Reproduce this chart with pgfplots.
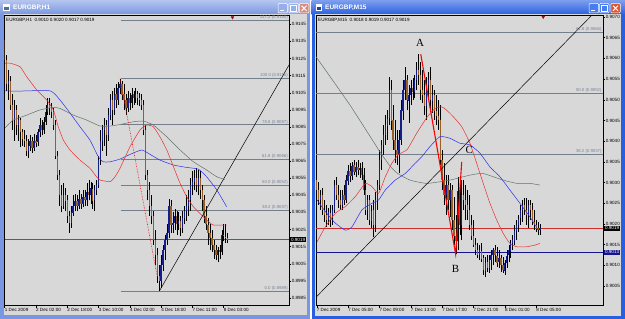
\documentclass[border=0pt]{standalone}
\usepackage{fontspec}
\setmainfont{Liberation Sans}
\newfontfamily\abcfont{Liberation Serif}
\usepackage{pgfplots}
\usepackage{pgfplotstable}
\pgfplotsset{compat=1.18}

\definecolor{chartbg}{RGB}{216,216,216}
\definecolor{bull}{RGB}{20,30,140}
\definecolor{bear}{RGB}{150,95,40}
\definecolor{maR}{RGB}{235,45,45}
\definecolor{maB}{RGB}{45,45,235}
\definecolor{maG}{RGB}{95,115,105}
\definecolor{fib}{RGB}{115,128,140}
\definecolor{fibtxt}{RGB}{120,130,150}
\definecolor{curline}{RGB}{205,45,45}
\definecolor{navyline}{RGB}{20,20,140}
\definecolor{titleL}{RGB}{120,150,225}
\definecolor{titleR}{RGB}{40,95,225}
\definecolor{btnL}{RGB}{150,175,235}
\definecolor{closeL}{RGB}{215,140,130}
\definecolor{btnR}{RGB}{70,125,240}
\definecolor{closeR}{RGB}{225,85,50}
\definecolor{markred}{RGB}{140,20,20}

% EURGBP H1: bar index, open, high, low, close
\pgfplotstableread{
i o h l c
0 0.9136 0.9138 0.9123 0.9124
1 0.9124 0.9127 0.9106 0.9110
2 0.9110 0.9118 0.9101 0.9112
3 0.9112 0.9115 0.9095 0.9098
4 0.9098 0.9104 0.9083 0.9089
5 0.9089 0.9101 0.9077 0.9095
6 0.9095 0.9098 0.9080 0.9086
7 0.9086 0.9092 0.9077 0.9089
8 0.9089 0.9090 0.9073 0.9082
9 0.9082 0.9084 0.9074 0.9078
10 0.9078 0.9083 0.9073 0.9077
11 0.9077 0.9080 0.9068 0.9071
12 0.9071 0.9078 0.9067 0.9074
13 0.9074 0.9080 0.9071 0.9077
14 0.9077 0.9079 0.9070 0.9073
15 0.9073 0.9081 0.9071 0.9077
16 0.9077 0.9080 0.9073 0.9076
17 0.9076 0.9084 0.9074 0.9082
18 0.9082 0.9090 0.9079 0.9086
19 0.9086 0.9089 0.9080 0.9083
20 0.9083 0.9091 0.9081 0.9088
21 0.9088 0.9098 0.9086 0.9094
22 0.9094 0.9102 0.9092 0.9098
23 0.9098 0.9102 0.9092 0.9096
24 0.9096 0.9099 0.9090 0.9094
25 0.9094 0.9096 0.9083 0.9086
26 0.9086 0.9089 0.9066 0.9068
27 0.9068 0.9071 0.9054 0.9057
28 0.9057 0.9060 0.9039 0.9045
29 0.9045 0.9051 0.9035 0.9039
30 0.9039 0.9052 0.9037 0.9045
31 0.9045 0.9049 0.9036 0.9042
32 0.9042 0.9045 0.9029 0.9033
33 0.9033 0.9036 0.9023 0.9029
34 0.9029 0.9039 0.9026 0.9035
35 0.9035 0.9045 0.9033 0.9039
36 0.9039 0.9046 0.9036 0.9042
37 0.9042 0.9045 0.9036 0.9039
38 0.9039 0.9048 0.9037 0.9043
39 0.9043 0.9046 0.9037 0.9040
40 0.9040 0.9048 0.9038 0.9044
41 0.9044 0.9048 0.9039 0.9042
42 0.9042 0.9052 0.9039 0.9047
43 0.9047 0.9054 0.9042 0.9045
44 0.9045 0.9053 0.9040 0.9049
45 0.9049 0.9052 0.9037 0.9042
46 0.9042 0.9051 0.9036 0.9048
47 0.9048 0.9054 0.9045 0.9051
48 0.9051 0.9068 0.9049 0.9066
49 0.9066 0.9083 0.9063 0.9077
50 0.9077 0.9086 0.9071 0.9083
51 0.9083 0.9090 0.9074 0.9086
52 0.9086 0.9089 0.9068 0.9080
53 0.9080 0.9096 0.9077 0.9092
54 0.9092 0.9104 0.9089 0.9101
55 0.9101 0.9106 0.9086 0.9095
56 0.9095 0.9108 0.9092 0.9104
57 0.9104 0.9110 0.9096 0.9101
58 0.9101 0.9111 0.9098 0.9108
59 0.9108 0.9113 0.9104 0.9110
60 0.9110 0.9112 0.9101 0.9104
61 0.9104 0.9110 0.9095 0.9101
62 0.9101 0.9104 0.9092 0.9096
63 0.9096 0.9106 0.9094 0.9102
64 0.9102 0.9105 0.9095 0.9099
65 0.9099 0.9108 0.9096 0.9104
66 0.9104 0.9106 0.9098 0.9102
67 0.9102 0.9108 0.9099 0.9104
68 0.9104 0.9106 0.9098 0.9102
69 0.9102 0.9105 0.9097 0.9101
70 0.9101 0.9104 0.9095 0.9098
71 0.9098 0.9101 0.9080 0.9083
72 0.9083 0.9086 0.9054 0.9057
73 0.9057 0.9060 0.9042 0.9048
74 0.9048 0.9053 0.9033 0.9039
75 0.9039 0.9045 0.9028 0.9033
76 0.9033 0.9036 0.9016 0.9019
77 0.9019 0.9025 0.9004 0.9010
78 0.9010 0.9014 0.8994 0.8998
79 0.8998 0.9004 0.8989 0.8995
80 0.8995 0.9010 0.8991 0.9004
81 0.9004 0.9016 0.9001 0.9013
82 0.9013 0.9022 0.9007 0.9019
83 0.9019 0.9028 0.9016 0.9023
84 0.9023 0.9043 0.9020 0.9039
85 0.9039 0.9042 0.9023 0.9028
86 0.9028 0.9035 0.9023 0.9029
87 0.9029 0.9037 0.9025 0.9033
88 0.9033 0.9036 0.9022 0.9028
89 0.9028 0.9035 0.9025 0.9030
90 0.9030 0.9033 0.9021 0.9026
91 0.9026 0.9036 0.9023 0.9032
92 0.9032 0.9039 0.9028 0.9036
93 0.9036 0.9045 0.9030 0.9039
94 0.9039 0.9048 0.9033 0.9042
95 0.9042 0.9055 0.9036 0.9051
96 0.9051 0.9059 0.9045 0.9053
97 0.9053 0.9060 0.9048 0.9055
98 0.9055 0.9061 0.9047 0.9051
99 0.9051 0.9060 0.9045 0.9055
100 0.9055 0.9059 0.9043 0.9048
101 0.9048 0.9051 0.9036 0.9042
102 0.9042 0.9045 0.9029 0.9033
103 0.9033 0.9039 0.9025 0.9028
104 0.9028 0.9032 0.9016 0.9023
105 0.9023 0.9028 0.9013 0.9020
106 0.9020 0.9025 0.9012 0.9016
107 0.9016 0.9019 0.9008 0.9013
108 0.9013 0.9016 0.9007 0.9010
109 0.9010 0.9015 0.9006 0.9013
110 0.9013 0.9016 0.9008 0.9012
111 0.9012 0.9025 0.9010 0.9022
112 0.9022 0.9028 0.9018 0.9021
113 0.9021 0.9028 0.9017 0.9020
114 0.9020 0.9023 0.9017 0.9019
}\hdata

% EURGBP M15
\pgfplotstableread{
i o h l c
0 0.90306 0.90323 0.90270 0.90282
1 0.90282 0.90301 0.90246 0.90258
2 0.90258 0.90282 0.90234 0.90270
3 0.90270 0.90287 0.90222 0.90234
4 0.90234 0.90258 0.90205 0.90222
5 0.90222 0.90246 0.90193 0.90210
6 0.90210 0.90239 0.90198 0.90229
7 0.90229 0.90246 0.90193 0.90214
8 0.90214 0.90246 0.90198 0.90234
9 0.90234 0.90306 0.90227 0.90294
10 0.90294 0.90313 0.90258 0.90270
11 0.90270 0.90294 0.90239 0.90258
12 0.90258 0.90282 0.90234 0.90246
13 0.90246 0.90282 0.90234 0.90270
14 0.90270 0.90294 0.90246 0.90258
15 0.90258 0.90318 0.90251 0.90306
16 0.90306 0.90342 0.90294 0.90330
17 0.90330 0.90347 0.90301 0.90318
18 0.90318 0.90350 0.90306 0.90342
19 0.90342 0.90355 0.90318 0.90326
20 0.90326 0.90350 0.90313 0.90338
21 0.90338 0.90355 0.90318 0.90330
22 0.90330 0.90347 0.90311 0.90335
23 0.90335 0.90350 0.90306 0.90318
24 0.90318 0.90335 0.90270 0.90282
25 0.90282 0.90306 0.90222 0.90234
26 0.90234 0.90270 0.90210 0.90258
27 0.90258 0.90270 0.90198 0.90210
28 0.90210 0.90246 0.90190 0.90234
29 0.90234 0.90258 0.90169 0.90198
30 0.90198 0.90277 0.90181 0.90258
31 0.90258 0.90306 0.90234 0.90294
32 0.90294 0.90379 0.90282 0.90355
33 0.90355 0.90403 0.90330 0.90391
34 0.90391 0.90439 0.90367 0.90415
35 0.90415 0.90463 0.90391 0.90439
36 0.90439 0.90475 0.90403 0.90456
37 0.90456 0.90555 0.90439 0.90524
38 0.90524 0.90548 0.90427 0.90451
39 0.90451 0.90487 0.90379 0.90403
40 0.90403 0.90451 0.90347 0.90379
41 0.90379 0.90427 0.90342 0.90367
42 0.90367 0.90427 0.90323 0.90403
43 0.90403 0.90499 0.90391 0.90475
44 0.90475 0.90548 0.90451 0.90524
45 0.90524 0.90579 0.90499 0.90548
46 0.90548 0.90560 0.90475 0.90499
47 0.90499 0.90536 0.90444 0.90512
48 0.90512 0.90548 0.90487 0.90528
49 0.90528 0.90553 0.90499 0.90519
50 0.90519 0.90560 0.90504 0.90548
51 0.90548 0.90591 0.90524 0.90572
52 0.90572 0.90611 0.90536 0.90560
53 0.90560 0.90591 0.90499 0.90524
54 0.90524 0.90572 0.90492 0.90512
55 0.90512 0.90548 0.90463 0.90487
56 0.90487 0.90555 0.90451 0.90536
57 0.90536 0.90567 0.90499 0.90548
58 0.90548 0.90579 0.90475 0.90499
59 0.90499 0.90536 0.90468 0.90512
60 0.90512 0.90524 0.90451 0.90475
61 0.90475 0.90512 0.90439 0.90463
62 0.90463 0.90499 0.90427 0.90451
63 0.90451 0.90487 0.90342 0.90355
64 0.90355 0.90379 0.90282 0.90306
65 0.90306 0.90347 0.90246 0.90270
66 0.90270 0.90318 0.90222 0.90294
67 0.90294 0.90318 0.90234 0.90258
68 0.90258 0.90299 0.90217 0.90282
69 0.90282 0.90294 0.90185 0.90210
70 0.90210 0.90265 0.90149 0.90173
71 0.90173 0.90222 0.90127 0.90161
72 0.90161 0.90313 0.90137 0.90282
73 0.90282 0.90311 0.90173 0.90198
74 0.90198 0.90306 0.90161 0.90270
75 0.90270 0.90306 0.90234 0.90258
76 0.90258 0.90294 0.90210 0.90246
77 0.90246 0.90282 0.90210 0.90234
78 0.90234 0.90270 0.90185 0.90198
79 0.90198 0.90222 0.90161 0.90173
80 0.90173 0.90210 0.90144 0.90149
81 0.90149 0.90166 0.90125 0.90137
82 0.90137 0.90154 0.90118 0.90125
83 0.90125 0.90149 0.90113 0.90137
84 0.90137 0.90154 0.90108 0.90118
85 0.90118 0.90125 0.90077 0.90089
86 0.90089 0.90120 0.90072 0.90108
87 0.90108 0.90125 0.90084 0.90094
88 0.90094 0.90125 0.90082 0.90113
89 0.90113 0.90137 0.90089 0.90125
90 0.90125 0.90142 0.90101 0.90137
91 0.90137 0.90149 0.90108 0.90125
92 0.90125 0.90144 0.90096 0.90108
93 0.90108 0.90137 0.90094 0.90118
94 0.90118 0.90125 0.90084 0.90101
95 0.90101 0.90120 0.90082 0.90089
96 0.90089 0.90113 0.90077 0.90108
97 0.90108 0.90137 0.90094 0.90125
98 0.90125 0.90149 0.90108 0.90137
99 0.90137 0.90161 0.90118 0.90154
100 0.90154 0.90173 0.90137 0.90161
101 0.90161 0.90198 0.90149 0.90185
102 0.90185 0.90210 0.90161 0.90198
103 0.90198 0.90222 0.90181 0.90214
104 0.90214 0.90246 0.90198 0.90234
105 0.90234 0.90258 0.90205 0.90246
106 0.90246 0.90263 0.90222 0.90234
107 0.90234 0.90263 0.90198 0.90222
108 0.90222 0.90258 0.90190 0.90246
109 0.90246 0.90258 0.90210 0.90234
110 0.90234 0.90251 0.90198 0.90205
111 0.90205 0.90234 0.90185 0.90198
112 0.90198 0.90210 0.90181 0.90190
113 0.90190 0.90205 0.90173 0.90185
114 0.90185 0.90200 0.90173 0.90190
}\mdata

\newcommand\candles[1]{%
  \addplot[draw=none, mark=none, error bars/.cd, y dir=plus, y explicit, error mark=none,
     error bar style={draw=black, line width=0.45bp}]
     table[x=i, y=l, y error expr=\thisrow{h}-\thisrow{l}]{#1};
  \addplot[draw=none, mark=none, restrict expr to domain={\thisrow{c}-\thisrow{o}}{0:1},
     error bars/.cd, y dir=both, y explicit, error mark=none,
     error bar style={draw=bull, line width=1.3bp}]
     table[x=i, y expr=(\thisrow{o}+\thisrow{c})/2, y error expr=abs(\thisrow{c}-\thisrow{o})/2]{#1};
  \addplot[draw=none, mark=none, restrict expr to domain={\thisrow{c}-\thisrow{o}}{-1:0},
     error bars/.cd, y dir=both, y explicit, error mark=none,
     error bar style={draw=bear, line width=1.3bp}]
     table[x=i, y expr=(\thisrow{o}+\thisrow{c})/2, y error expr=abs(\thisrow{c}-\thisrow{o})/2]{#1};
}

\pgfplotsset{mtaxis/.style={
  scale only axis, anchor=south west,
  axis background/.style={fill=chartbg},
  axis line style={black, line width=0.5bp},
  clip mode=individual,
  tick align=outside, major tick length=2bp,
  tick style={black, line width=0.4bp},
  xtick pos=bottom, ytick pos=right, yticklabel pos=right,
  every tick label/.append style={font=\fontsize{4.6}{5}\selectfont, inner sep=0.6bp},
  yticklabel style={anchor=west},
  xticklabel style={anchor=north west, xshift=-0.6bp},
}}
\tikzset{fiblbl/.style={anchor=south east, text=fibtxt, inner sep=0.3bp, font=\fontsize{4.3}{5}\selectfont},
  pbox/.style={anchor=west, text=white, inner sep=0.9bp, xshift=1bp, font=\fontsize{4.6}{5}\selectfont}}

\begin{document}
\begin{tikzpicture}
\useasboundingbox (0,0) rectangle (625bp,319bp);
\fill[white] (0,0) rectangle (625bp,319bp);
% left window frame
\fill[titleL] (0,0) rectangle (310bp,319bp);
\shade[top color=titleL!55!white, bottom color=titleL] (0,304.5bp) rectangle (310bp,319bp);
\fill[chartbg] (3.5bp,3.5bp) rectangle (306.5bp,304.5bp);
% right window frame
\fill[titleR] (311.5bp,0) rectangle (625bp,319bp);
\shade[top color=titleR!60!white, bottom color=titleR] (311.5bp,304.5bp) rectangle (625bp,319bp);
\fill[chartbg] (314.5bp,2.5bp) rectangle (621bp,304.5bp);

% ---------- H1 chart ----------
\begin{axis}[mtaxis, at={(4.5bp,13.3bp)}, width=284.5bp, height=290.7bp,
  xmin=-0.1, xmax=145.4, ymin=0.898044, ymax=0.915044,
  xtick={0,16,32,48,64,80,96,112},
  xticklabels={1 Dec 2009,2 Dec 02:00,2 Dec 18:00,3 Dec 10:00,4 Dec 02:00,4 Dec 18:00,7 Dec 11:00,8 Dec 03:00},
  ytick={0.8985,0.8995,0.9005,0.9015,0.9025,0.9035,0.9045,0.9055,0.9065,0.9075,0.9085,0.9095,0.9105,0.9115,0.9125,0.9135,0.9145},
  yticklabels={0.8985,0.8995,0.9005,0.9015,0.9025,0.9035,0.9045,0.9055,0.9065,0.9075,0.9085,0.9095,0.9105,0.9115,0.9125,0.9135,0.9145}]
  % Fibonacci levels
  \addplot[fib, line width=0.6bp, mark=none] coordinates {(59.3,0.89890) (145.4,0.89890)};
  \addplot[fib, line width=0.6bp, mark=none] coordinates {(59.3,0.90362) (145.4,0.90362)};
  \addplot[fib, line width=0.6bp, mark=none] coordinates {(59.3,0.90509) (145.4,0.90509)};
  \addplot[fib, line width=0.6bp, mark=none] coordinates {(59.3,0.90663) (145.4,0.90663)};
  \addplot[fib, line width=0.6bp, mark=none] coordinates {(59.3,0.90864) (145.4,0.90864)};
  \addplot[fib, line width=0.6bp, mark=none] coordinates {(59.3,0.91134) (145.4,0.91134)};
  \addplot[fib, line width=0.6bp, mark=none] coordinates {(59.3,0.91475) (145.4,0.91475)};
  % current price
  \addplot[curline, line width=0.6bp, mark=none] coordinates {(-0.1,0.9019) (145.4,0.9019)};
  \candles{\hdata}
  % moving averages
  \addplot[maG, line width=0.5bp, mark=none, smooth, tension=0.3] coordinates {
   (0.2,0.90845) (4.4,0.90890) (11.3,0.90919) (18.0,0.90949) (24.9,0.90964) (28.3,0.90958)
   (35.1,0.90919) (41.9,0.90890) (48.8,0.90855) (53.9,0.90855) (59.0,0.90864) (65.8,0.90880)
   (70.9,0.90884) (76.0,0.90861) (82.9,0.90792) (89.7,0.90715) (96.5,0.90646) (103.3,0.90598)
   (108.5,0.90558) (112.6,0.90543)};
  \addplot[maB, line width=0.5bp, mark=none, smooth, tension=0.3] coordinates {
   (0.2,0.91061) (6.1,0.91059) (23.2,0.91061) (28.3,0.91007) (33.4,0.90931) (38.5,0.90851)
   (43.6,0.90773) (47.9,0.90675) (50.4,0.90646) (53.9,0.90646) (59.0,0.90662) (64.1,0.90689)
   (70.1,0.90715) (74.4,0.90689) (79.4,0.90656) (86.3,0.90627) (93.1,0.90613) (99.0,0.90603)
   (103.3,0.90558) (108.5,0.90481) (113.5,0.90383)};
  \addplot[maR, line width=0.5bp, mark=none, smooth, tension=0.3] coordinates {
   (0.2,0.91222) (2.7,0.91223) (7.8,0.91202) (11.3,0.91143) (16.4,0.91066) (21.5,0.91007)
   (24.9,0.90949) (27.4,0.90851) (30.0,0.90773) (33.4,0.90715) (38.5,0.90656) (43.6,0.90608)
   (47.0,0.90558) (48.8,0.90539) (53.9,0.90530) (56.4,0.90558) (59.0,0.90609) (64.1,0.90734)
   (69.2,0.90832) (72.6,0.90861) (76.0,0.90851) (79.4,0.90792) (82.9,0.90715) (86.3,0.90617)
   (89.7,0.90520) (93.1,0.90441) (96.5,0.90383) (99.9,0.90344) (103.3,0.90305) (106.7,0.90276)
   (113.5,0.90276)};
  % trend line and fibo baseline
  \addplot[black, line width=0.5bp, mark=none] coordinates {(79.1,0.8989) (145.4,0.91212)};
  \addplot[red, densely dotted, line width=0.6bp, mark=none] coordinates {(59.0,0.91134) (78.1,0.8997)};
  \addplot[only marks, mark=triangle*, mark size=1.6bp, mark options={rotate=180, fill=markred, draw=markred}] coordinates {(116.5,0.91490)};
  % level labels
  \node[fiblbl] at (axis cs:145,0.89890) {0.0 (0.8989)};
  \node[fiblbl] at (axis cs:145,0.90362) {38.2 (0.9037)};
  \node[fiblbl] at (axis cs:145,0.90509) {50.0 (0.9052)};
  \node[fiblbl] at (axis cs:145,0.90663) {61.8 (0.9066)};
  \node[fiblbl] at (axis cs:145,0.90864) {78.6 (0.9087)};
  \node[fiblbl] at (axis cs:145,0.91134) {100.0 (0.9116)};
  \node[fiblbl] at (axis cs:145,0.91475) {127.2 (0.9150)};
  \node[pbox, fill=black] at (axis cs:145.4,0.9019) {0.9019};
\end{axis}

% ---------- M15 chart ----------
\begin{axis}[mtaxis, at={(316bp,13.4bp)}, width=287bp, height=290.6bp,
  xmin=-0.36, xmax=146.1, ymin=0.900028, ymax=0.907048,
  xtick={0,16,32,48,64,80,96,112},
  xticklabels={7 Dec 2009,7 Dec 05:00,7 Dec 09:00,7 Dec 13:00,7 Dec 17:00,7 Dec 21:00,8 Dec 01:00,8 Dec 05:00},
  ytick={0.9005,0.9010,0.9015,0.9020,0.9025,0.9030,0.9035,0.9040,0.9045,0.9050,0.9055,0.9060,0.9065,0.9070},
  yticklabels={0.9005,0.9010,0.9015,0.9020,0.9025,0.9030,0.9035,0.9040,0.9045,0.9050,0.9055,0.9060,0.9065,0.9070}]
  \addplot[fib, line width=0.6bp, mark=none] coordinates {(-0.36,0.90663) (146.1,0.90663)};
  \addplot[fib, line width=0.6bp, mark=none] coordinates {(-0.36,0.90516) (146.1,0.90516)};
  \addplot[fib, line width=0.6bp, mark=none] coordinates {(-0.36,0.90369) (146.1,0.90369)};
  \addplot[curline, line width=0.6bp, mark=none] coordinates {(-0.36,0.9019) (146.1,0.9019)};
  \addplot[navyline, line width=0.7bp, mark=none] coordinates {(-0.36,0.90132) (146.1,0.90132)};
  \candles{\mdata}
  \addplot[maG, line width=0.5bp, mark=none, smooth, tension=0.3] coordinates {
   (-0.36,0.90604) (17.0,0.90487) (32.3,0.90374) (37.4,0.90340) (41.0,0.90323) (47.6,0.90306)
   (56.3,0.90298) (68.0,0.90306) (78.2,0.90318) (84.8,0.90322) (95.1,0.90306) (102.2,0.90298)
   (108.8,0.90298) (113.9,0.90294)};
  \addplot[maB, line width=0.5bp, mark=none, smooth, tension=0.3] coordinates {
   (0.2,0.90258) (4.4,0.90230) (9.5,0.90202) (14.6,0.90185) (18.0,0.90193) (23.1,0.90234)
   (28.2,0.90250) (31.6,0.90258) (35.0,0.90282) (40.1,0.90306) (45.2,0.90322) (50.3,0.90347)
   (53.7,0.90363) (57.8,0.90387) (62.9,0.90411) (68.0,0.90407) (73.1,0.90395) (78.2,0.90391)
   (83.3,0.90371) (88.4,0.90338) (93.5,0.90314) (98.6,0.90282) (103.7,0.90250) (108.8,0.90217)
   (113.1,0.90185)};
  \addplot[maR, line width=0.5bp, mark=none, smooth, tension=0.3] coordinates {
   (0.2,0.90157) (4.4,0.90193) (9.5,0.90226) (14.6,0.90242) (19.7,0.90266) (24.8,0.90298)
   (28.2,0.90290) (31.6,0.90274) (35.0,0.90314) (38.4,0.90347) (41.8,0.90368) (46.2,0.90380)
   (51.0,0.90419) (56.3,0.90458) (60.4,0.90479) (63.8,0.90483) (66.3,0.90475) (69.7,0.90459)
   (74.0,0.90435) (78.2,0.90395) (81.6,0.90347) (85.0,0.90298) (88.4,0.90250) (91.8,0.90210)
   (95.2,0.90177) (98.6,0.90153) (102.0,0.90145) (107.1,0.90145) (111.4,0.90149) (113.9,0.90153)};
  \addplot[black, line width=0.5bp, mark=none] coordinates {(-0.36,0.90023) (140.5,0.907048)};
  \addplot[red, line width=1.1bp, mark=none] coordinates {(53.1,0.90610) (70.9,0.90127) (74.0,0.90350)};
  \addplot[only marks, mark=triangle*, mark size=1.6bp, mark options={rotate=180, fill=markred, draw=markred}] coordinates {(115.6,0.90700)};
  \node[font=\abcfont\fontsize{11}{12}\selectfont] at (axis cs:52.7,0.90637) {A};
  \node[font=\abcfont\fontsize{11}{12}\selectfont] at (axis cs:70.9,0.90091) {B};
  \node[font=\abcfont\fontsize{11}{12}\selectfont] at (axis cs:77.9,0.90379) {C};
  \node[fiblbl] at (axis cs:145.6,0.90663) {61.8 (0.9066)};
  \node[fiblbl] at (axis cs:145.6,0.90516) {50.0 (0.9052)};
  \node[fiblbl] at (axis cs:145.6,0.90369) {38.2 (0.9037)};
  \node[pbox, fill=black] at (axis cs:146.1,0.9019) {0.9019};
  \node[pbox, fill=navyline] at (axis cs:146.1,0.90132) {0.9013};
\end{axis}

% chart info lines
\node[anchor=west, inner sep=0, font=\fontsize{4.6}{5}\selectfont] at (6bp,299bp) {EURGBP,H1\ \ 0.9010 0.9020 0.9017 0.9019};
\node[anchor=west, inner sep=0, font=\fontsize{4.6}{5}\selectfont] at (318bp,299bp) {EURGBP,M15\ \ 0.9018 0.9019 0.9017 0.9019};

% title bars
\node[anchor=west, inner sep=0, text=white, font=\bfseries\fontsize{6.5}{7}\selectfont] at (13bp,311.3bp) {EURGBP,H1};
\node[anchor=west, inner sep=0, text=white, font=\bfseries\fontsize{6.5}{7}\selectfont] at (325bp,311.3bp) {EURGBP,M15};
\begin{scope}[x=1bp,y=1bp]
  \fill[white] (3.5,308) rectangle (9.5,314.5); \fill[titleL!70!black] (4.5,309) rectangle (8.5,312);
  \fill[white] (315.5,308) rectangle (321.5,314.5); \fill[titleR!70!black] (316.5,309) rectangle (320.5,312);
\end{scope}
\begin{scope}[shift={(278bp,306bp)}, x=1bp, y=1bp]
  \draw[white, line width=0.5, fill=btnL, rounded corners=1] (0,0) rectangle (9.5,9.5);
  \fill[white] (2.2,2) rectangle (5.5,3.2);
  \draw[white, line width=0.5, fill=btnL, rounded corners=1] (10.8,0) rectangle (20.3,9.5);
  \draw[white, line width=0.7] (12.8,2) rectangle (18.3,7.5);
  \draw[white, line width=1] (12.8,7.2) -- (18.3,7.2);
  \draw[white, line width=0.5, fill=closeL, rounded corners=1] (21.3,0) rectangle (30.8,9.5);
  \draw[white, line width=1] (23.6,2.2) -- (28.5,7.3) (23.6,7.3) -- (28.5,2.2);
\end{scope}
\begin{scope}[shift={(589bp,306bp)}, x=1bp, y=1bp]
  \draw[white, line width=0.5, fill=btnR, rounded corners=1] (0,0) rectangle (9.5,9.5);
  \fill[white] (2.2,2) rectangle (5.5,3.2);
  \draw[white, line width=0.5, fill=btnR, rounded corners=1] (10.5,0) rectangle (20,9.5);
  \draw[white, line width=0.7] (12.5,2) rectangle (18,7.5);
  \draw[white, line width=1] (12.5,7.2) -- (18,7.2);
  \draw[white, line width=0.5, fill=closeR, rounded corners=1] (21.8,0) rectangle (31.3,9.5);
  \draw[white, line width=1] (24.1,2.2) -- (29,7.3) (24.1,7.3) -- (29,2.2);
\end{scope}
\end{tikzpicture}
\end{document}
